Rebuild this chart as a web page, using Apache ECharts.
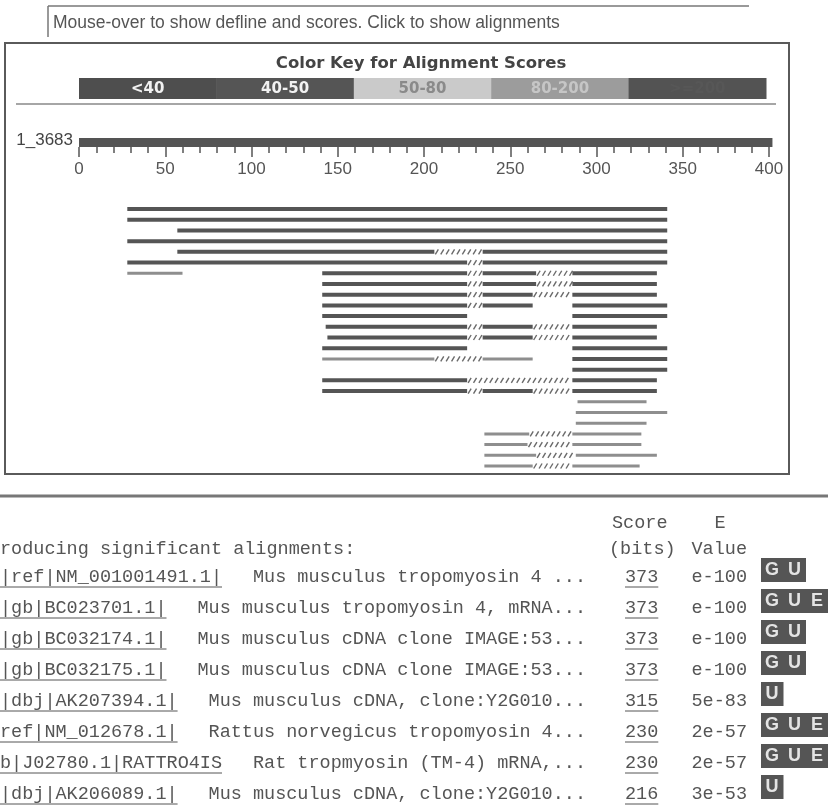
<!DOCTYPE html>
<html>
<head>
<meta charset="utf-8">
<title>BLAST hits</title>
<script src="https://cdn.jsdelivr.net/npm/echarts@6/dist/echarts.min.js"></script>
<style>
html, body { margin: 0; padding: 0; background: #fff; }
#chart { width: 828px; height: 806px; }
</style>
</head>
<body>
<div id="chart"></div>
<script>
const queryName = '1_3683'
const queryLength = 402

const keyLabels = ['<40', '40-50', '50-80', '80-200', '>=200']
const keyColors = ['#4e4e4e', '#555555', '#cacaca', '#9c9c9c', '#535353']
const keyTextColors = ['#f2f2f2', '#f2f2f2', '#8a8a8a', '#c6c6c6', '#575757']

// one list per hit line: [from, to, kind]  kind: hi = >=200, mid = 80-200, gap = hatched
const alignRows = [
  [[28, 341, 'hi']],
  [[28, 341, 'hi']],
  [[57, 341, 'hi']],
  [[28, 341, 'hi']],
  [[57, 206, 'hi'], [206, 234, 'gap'], [234, 341, 'hi']],
  [[28, 225, 'hi'], [225, 234, 'gap'], [234, 341, 'hi']],
  [[28, 60, 'mid'], [141, 225, 'hi'], [225, 234, 'gap'], [234, 265, 'hi'], [265, 286, 'gap'], [286, 335, 'hi']],
  [[141, 225, 'hi'], [225, 234, 'gap'], [234, 265, 'hi'], [265, 286, 'gap'], [286, 335, 'hi']],
  [[141, 225, 'hi'], [225, 234, 'gap'], [234, 263, 'hi'], [263, 286, 'gap'], [286, 335, 'hi']],
  [[141, 225, 'hi'], [225, 234, 'gap'], [234, 263, 'hi'], [286, 341, 'hi']],
  [[141, 225, 'hi'], [286, 341, 'hi']],
  [[143, 225, 'hi'], [225, 234, 'gap'], [234, 263, 'hi'], [263, 286, 'gap'], [286, 335, 'hi']],
  [[144, 225, 'hi'], [225, 234, 'gap'], [234, 263, 'hi'], [263, 286, 'gap'], [286, 335, 'hi']],
  [[141, 225, 'hi'], [286, 341, 'hi']],
  [[141, 206, 'mid'], [206, 234, 'gap'], [234, 263, 'mid'], [286, 341, 'hi']],
  [[286, 341, 'hi']],
  [[141, 225, 'hi'], [225, 286, 'gap'], [286, 335, 'hi']],
  [[141, 225, 'hi'], [225, 234, 'gap'], [234, 263, 'hi'], [263, 286, 'gap'], [286, 335, 'hi']],
  [[289, 329, 'mid']],
  [[288, 341, 'mid']],
  [[288, 329, 'mid']],
  [[235, 261, 'mid'], [261, 286, 'gap'], [286, 326, 'mid']],
  [[235, 260, 'mid'], [260, 286, 'gap'], [286, 326, 'mid']],
  [[235, 265, 'mid'], [265, 288, 'gap'], [288, 335, 'mid']],
  [[235, 263, 'mid'], [263, 286, 'gap'], [286, 325, 'mid']]
]

const hitIds = [
  '|ref|NM_001001491.1|', '|gb|BC023701.1|', '|gb|BC032174.1|', '|gb|BC032175.1|',
  '|dbj|AK207394.1|', 'ref|NM_012678.1|', 'b|J02780.1|RATTRO4IS', '|dbj|AK206089.1|'
]
const hitDescs = [
  'Mus musculus tropomyosin 4 ...', 'Mus musculus tropomyosin 4, mRNA...',
  'Mus musculus cDNA clone IMAGE:53...', 'Mus musculus cDNA clone IMAGE:53...',
  'Mus musculus cDNA, clone:Y2G010...', 'Rattus norvegicus tropomyosin 4...',
  'Rat tropmyosin (TM-4) mRNA,...', 'Mus musculus cDNA, clone:Y2G010...'
]
const hitScores = ['373', '373', '373', '373', '315', '230', '230', '216']
const hitEvalues = ['e-100', 'e-100', 'e-100', 'e-100', '5e-83', '2e-57', '2e-57', '3e-53']
const hitLinks = ['GU', 'GUE', 'GU', 'GU', 'U', 'GUE', 'GUE', 'U']

const segData = []
const segKinds = []
alignRows.forEach((row, i) => {
  row.forEach(s => {
    segData.push([s[0], s[1], i])
    segKinds.push(s[2])
  })
})

const chart = echarts.init(document.getElementById('chart'))

function renderQuery(params, api) {
  const a = api.coord([api.value(0), 0])
  const b = api.coord([api.value(1), 0])
  return {
    type: 'rect',
    shape: { x: a[0], y: params.coordSys.y, width: b[0] - a[0], height: params.coordSys.height },
    style: { fill: '#545454' }
  }
}

function renderSeg(params, api) {
  const kind = segKinds[params.dataIndex]
  const a = api.coord([api.value(0), api.value(2)])
  const b = api.coord([api.value(1), api.value(2)])
  const y = a[1]
  if (kind === 'gap') {
    const lines = []
    for (let x = a[0] + 1; x < b[0] - 2; x += 5.4) {
      lines.push({
        type: 'line',
        shape: { x1: x, y1: y + 2.5, x2: x + 3, y2: y - 2.5 },
        style: { stroke: '#6a6a6a', lineWidth: 1.4 }
      })
    }
    return { type: 'group', children: lines }
  }
  const h = kind === 'hi' ? 4 : 3
  return {
    type: 'rect',
    shape: { x: a[0], y: y - h / 2, width: b[0] - a[0], height: h },
    style: { fill: kind === 'hi' ? '#555555' : '#8e8e8e' }
  }
}

const mono = 'Liberation Mono'
const cw = 11.1
const tableColor = '#555'
const graphics = []

// page furniture
graphics.push(
  { type: 'line', shape: { x1: 48, y1: 6, x2: 749, y2: 6 }, style: { stroke: '#777', lineWidth: 1.5 } },
  { type: 'line', shape: { x1: 48, y1: 6, x2: 48, y2: 37 }, style: { stroke: '#777', lineWidth: 1.5 } },
  { type: 'text', x: 53, y: 23, style: { text: 'Mouse-over to show defline and scores. Click to show alignments', font: '17.5px "Liberation Sans"', fill: '#555', verticalAlign: 'middle' } },
  { type: 'rect', shape: { x: 5, y: 43, width: 784, height: 431 }, style: { fill: 'none', stroke: '#5a5a5a', lineWidth: 2 } },
  { type: 'text', x: 421, y: 64, style: { text: 'Color Key for Alignment Scores', font: 'bold 16.5px "DejaVu Sans"', fill: '#444', align: 'center', verticalAlign: 'middle' } },
  { type: 'line', shape: { x1: 16, y1: 104, x2: 776, y2: 104 }, style: { stroke: '#888', lineWidth: 1.5 } },
  { type: 'text', x: 73, y: 140, style: { text: queryName, font: '17px "Liberation Sans"', fill: '#444', align: 'right', verticalAlign: 'middle' } },
  { type: 'line', shape: { x1: 0, y1: 496, x2: 828, y2: 496 }, style: { stroke: '#777', lineWidth: 3 } }
)

// colour key
const keyLeft = 79
const keyW = (766 - 79) / keyLabels.length
keyLabels.forEach((lab, i) => {
  graphics.push({ type: 'rect', shape: { x: keyLeft + i * keyW, y: 78, width: keyW + 0.5, height: 21 }, style: { fill: keyColors[i] } })
  graphics.push({ type: 'text', x: keyLeft + (i + 0.5) * keyW, y: 89, style: { text: lab, font: 'bold 15px "DejaVu Sans"', fill: keyTextColors[i], align: 'center', verticalAlign: 'middle' } })
})

// hit table
const monoFont = '18.5px "' + mono + '"'
graphics.push(
  { type: 'text', x: 612, y: 523, style: { text: 'Score', font: monoFont, fill: tableColor, verticalAlign: 'middle' } },
  { type: 'text', x: 720, y: 523, style: { text: 'E', font: monoFont, fill: tableColor, align: 'center', verticalAlign: 'middle' } },
  { type: 'text', x: 0, y: 549, style: { text: 'roducing significant alignments:', font: monoFont, fill: tableColor, verticalAlign: 'middle' } },
  { type: 'text', x: 609, y: 549, style: { text: '(bits)', font: monoFont, fill: tableColor, verticalAlign: 'middle' } },
  { type: 'text', x: 747, y: 549, style: { text: 'Value', font: monoFont, fill: tableColor, align: 'right', verticalAlign: 'middle' } }
)
hitIds.forEach((id, i) => {
  const y = 577 + i * 31
  graphics.push(
    { type: 'text', x: 0, y: y, style: { text: id, font: monoFont, fill: tableColor, verticalAlign: 'middle' } },
    { type: 'line', shape: { x1: 0, y1: y + 10, x2: id.length * cw, y2: y + 10 }, style: { stroke: tableColor, lineWidth: 1 } },
    { type: 'text', x: 586, y: y, style: { text: hitDescs[i], font: monoFont, fill: tableColor, align: 'right', verticalAlign: 'middle' } },
    { type: 'text', x: 625, y: y, style: { text: hitScores[i], font: monoFont, fill: tableColor, verticalAlign: 'middle' } },
    { type: 'line', shape: { x1: 625, y1: y + 10, x2: 625 + 3 * cw, y2: y + 10 }, style: { stroke: tableColor, lineWidth: 1 } },
    { type: 'text', x: 747, y: y, style: { text: hitEvalues[i], font: monoFont, fill: tableColor, align: 'right', verticalAlign: 'middle' } }
  )
  const links = hitLinks[i].split('')
  graphics.push({ type: 'rect', shape: { x: 761, y: y - 19, width: links.length * 22.5, height: 24 }, style: { fill: '#555' } })
  links.forEach((l, j) => {
    graphics.push({ type: 'text', x: 761 + 11 + j * 22.5, y: y - 7, style: { text: l, font: 'bold 18px "Liberation Sans"', fill: '#e4e4e4', align: 'center', verticalAlign: 'middle' } })
  })
})

const option = {
  animation: false,
  backgroundColor: '#fff',
  grid: [
    { left: 79, top: 138, width: 690, height: 9 },
    { left: 79, top: 209, width: 690, height: 257 }
  ],
  xAxis: [
    {
      gridIndex: 0, type: 'value', min: 0, max: 400, interval: 50,
      axisLine: { show: false },
      axisTick: { show: true, length: 10, lineStyle: { color: '#555', width: 1.5 } },
      minorTick: { show: true, splitNumber: 5, length: 6, lineStyle: { color: '#555', width: 1.5 } },
      splitLine: { show: false },
      axisLabel: { margin: 14, fontSize: 17, fontFamily: 'Liberation Sans', color: '#555' }
    },
    { gridIndex: 1, type: 'value', min: 0, max: 400, show: false }
  ],
  yAxis: [
    { gridIndex: 0, type: 'value', min: 0, max: 1, show: false },
    { gridIndex: 1, type: 'value', min: 0, max: alignRows.length - 1, inverse: true, show: false }
  ],
  series: [
    { type: 'custom', xAxisIndex: 0, yAxisIndex: 0, clip: false, renderItem: renderQuery, data: [[0, queryLength]] },
    { type: 'custom', xAxisIndex: 1, yAxisIndex: 1, clip: false, renderItem: renderSeg, data: segData }
  ],
  graphic: graphics
}

chart.setOption(option)
</script>
</body>
</html>
